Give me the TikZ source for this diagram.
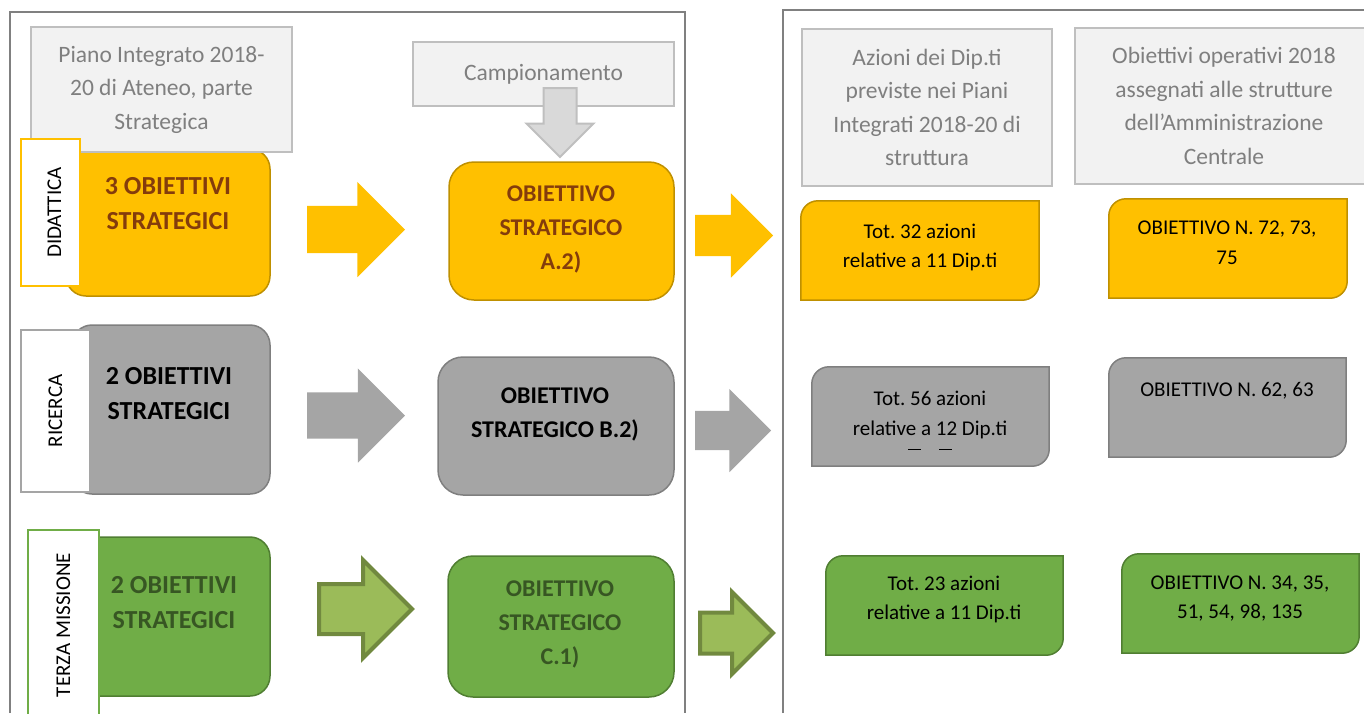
\documentclass[tikz,border=0pt]{standalone}
\usepackage{fontspec}
\setmainfont{Carlito}
\usetikzlibrary{shapes.arrows,positioning}
\frenchspacing

\definecolor{yfill}{HTML}{FFC000}
\definecolor{yline}{HTML}{BF9000}
\definecolor{ytext}{HTML}{843C0C}
\definecolor{gfill}{HTML}{A5A5A5}
\definecolor{gline}{HTML}{7F7F7F}
\definecolor{vfill}{HTML}{70AD47}
\definecolor{vline}{HTML}{507E32}
\definecolor{vtext}{HTML}{375623}
\definecolor{varrfill}{HTML}{9BBB59}
\definecolor{varrline}{HTML}{71893F}
\definecolor{hdrfill}{HTML}{F2F2F2}
\definecolor{hdrline}{HTML}{BFBFBF}
\definecolor{hdrtext}{HTML}{7F7F7F}
\definecolor{downfill}{HTML}{D9D9D9}
\definecolor{framegray}{HTML}{808080}

% box with top-left and bottom-right corners rounded
\newcommand{\diagcorners}[2]{%
  \draw[#2] (#1.south west) -- ([yshift=-17pt]#1.north west)
    arc[start angle=180, end angle=90, radius=17pt] -- (#1.north east)
    -- ([yshift=17pt]#1.south east)
    arc[start angle=0, end angle=-90, radius=17pt] -- cycle;}

\tikzset{
  hdrbox/.style={draw=hdrline, fill=hdrfill, line width=1.8pt, text=hdrtext,
    align=center, inner sep=0pt, font=\fontsize{23.5}{33.5}\selectfont},
  catlabel/.style={draw=#1, fill=white, line width=1.5pt, inner sep=0pt},
  labeltxt/.style={rotate=90, font=\fontsize{21}{25}\selectfont},
  leftbox/.style={rounded corners=20pt, line width=1.5pt, inner sep=0pt},
  midbox/.style={rounded corners=25pt, line width=1.5pt, inner sep=0pt},
  bigtxt/.style={align=center, font=\fontsize{26}{35}\selectfont\bfseries},
  midtxt/.style={align=center, font=\fontsize{24}{34}\selectfont\bfseries},
  bodytxt/.style={align=center, font=\fontsize{21}{29.5}\selectfont},
  diagbox/.style={inner sep=0pt},
  blockarr/.style={single arrow, anchor=tip, outer sep=0pt},
  framel/.style={draw=framegray, line width=1.2pt},
}

\begin{document}
\begin{tikzpicture}[x=1pt,y=-1pt]
\useasboundingbox (0,0) rectangle (1364,713);
\clip (0,0) rectangle (1364,713);

% frames
\draw[framel] (10,713) -- (10,12) -- (685,12) -- (685,713);
\draw[framel] (783,713) -- (783,10) -- (1364,10);

% didattica
\node[leftbox, fill=yfill, draw=yline, minimum width=204pt, minimum height=147pt] (yl-box) at (168,222.5) {};
\node[hdrbox, minimum width=261pt, minimum height=125pt] (hdr-piano) at (161.5,89.5) {Piano Integrato 2018-\\20 di Ateneo, parte\\Strategica};
\node[catlabel=yfill, minimum width=59pt, minimum height=147pt] (lab-did) at (50.5,212.5) {};
\node[labeltxt] (lt-did) at ([xshift=4pt]lab-did.center) {DIDATTICA};
\node[bigtxt, text=ytext] (t-yl) at (168,203.5) {3 OBIETTIVI\\STRATEGICI};

% ricerca
\node[leftbox, fill=gfill, draw=gline, minimum width=198pt, minimum height=169pt] (gl-box) at (171,409.5) {};
\node[catlabel=gfill, minimum width=69pt, minimum height=162pt] (lab-ric) at (55.5,411) {};
\node[labeltxt] (lt-ric) at (lab-ric) {RICERCA};
\node[bigtxt] (t-gl) at (169,394) {2 OBIETTIVI\\STRATEGICI};

% terza missione
\node[leftbox, fill=vfill, draw=vline, minimum width=194pt, minimum height=159pt] (vl-box) at (173,616.5) {};
\node[catlabel=vfill, minimum width=71pt, minimum height=190pt] (lab-ter) at (63.5,625) {};
\node[labeltxt] (lt-ter) at (lab-ter) {TERZA MISSIONE};
\node[bigtxt, text=vtext] (t-vl) at (174,602.5) {2 OBIETTIVI\\STRATEGICI};

% arrows to the sample
\node[blockarr, fill=yfill, inner sep=23.5pt, minimum height=98pt, minimum width=95pt, single arrow head extend=24pt] (ya1) at (405,229.5) {};
\node[blockarr, fill=gfill, inner sep=23pt, minimum height=98pt, minimum width=94pt, single arrow head extend=24pt] (ga1) at (405,415.5) {};
\node[blockarr, fill=varrfill, draw=varrline, line width=4pt, inner sep=23pt, minimum height=93pt, minimum width=94pt, single arrow head extend=24pt] (va1) at (412,609) {};

% sampled objectives
\node[midbox, fill=yfill, draw=yline, minimum width=225pt, minimum height=138pt] (ym-box) at (561.5,231) {};
\node[midtxt, text=ytext] (t-ym) at (561,229) {OBIETTIVO\\STRATEGICO\\A.2)};
\node[midbox, fill=gfill, draw=gline, minimum width=236pt, minimum height=138pt] (gm-box) at (556,426) {};
\node[midtxt] (t-gm) at (555,414) {OBIETTIVO\\STRATEGICO B.2)};
\node[midbox, fill=vfill, draw=vline, minimum width=226pt, minimum height=141pt] (vm-box) at (561,626.5) {};
\node[midtxt, text=vtext] (t-vm) at (560,624) {OBIETTIVO\\STRATEGICO\\C.1)};

\node[hdrbox, minimum width=261pt, minimum height=64pt] (hdr-camp) at (543.5,74) {Campionamento};
\node[blockarr, fill=downfill, draw=hdrline, line width=2pt, shape border rotate=270, inner sep=15.5pt, minimum height=69pt, minimum width=65pt, single arrow head extend=17pt] (camp-arr) at (560,157) {};

% arrows to the structures
\node[blockarr, fill=yfill, inner sep=20.5pt, minimum height=78pt, minimum width=84pt, single arrow head extend=21.5pt] (ya2) at (773,235.5) {};
\node[blockarr, fill=gfill, inner sep=19.5pt, minimum height=76pt, minimum width=83pt, single arrow head extend=22pt] (ga2) at (771,430.5) {};
\node[blockarr, fill=varrfill, draw=varrline, line width=4pt, inner sep=18.5pt, minimum height=73pt, minimum width=78pt, single arrow head extend=20.5pt] (va2) at (773,633) {};

% right headers
\node[hdrbox, minimum width=250pt, minimum height=157pt] (hdr-azioni) at (927,107.5) {Azioni dei Dip.ti\\previste nei Piani\\Integrati 2018-20 di\\struttura};
\node[hdrbox, minimum width=298pt, minimum height=156pt] (hdr-obiet) at (1224,106) {Obiettivi operativi 2018\\assegnati alle strutture\\dell’Amministrazione\\Centrale};

% actions of the departments
\node[diagbox, minimum width=238pt, minimum height=99pt] (yt-box) at (920,250.5) {};
\diagcorners{yt-box}{fill=yfill, draw=yline, line width=1.5pt}
\node[bodytxt] (t-yt) at (920,247.5) {Tot. 32 azioni\\relative a 11 Dip.ti};
\node[diagbox, minimum width=237pt, minimum height=99pt] (gt-box) at (930.5,416.5) {};
\diagcorners{gt-box}{fill=gfill, draw=gline, line width=1.5pt}
\node[bodytxt] (t-gt) at (930,415) {Tot. 56 azioni\\relative a 12 Dip.ti};
\draw[line width=1pt] (908,449) -- (921,449) (939,449) -- (952,449);
\node[diagbox, minimum width=237pt, minimum height=99pt] (vt-box) at (944.5,605.5) {};
\diagcorners{vt-box}{fill=vfill, draw=vline, line width=1.5pt}
\node[bodytxt] (t-vt) at (944,599.5) {Tot. 23 azioni\\relative a 11 Dip.ti};

% operative objectives
\node[diagbox, minimum width=238pt, minimum height=99pt] (yo-box) at (1228,248.5) {};
\diagcorners{yo-box}{fill=yfill, draw=yline, line width=1.5pt}
\node[bodytxt] (t-yo) at (1227,243) {OBIETTIVO N. 72, 73,\\75};
\node[diagbox, minimum width=237pt, minimum height=99pt] (go-box) at (1227.5,407.5) {};
\diagcorners{go-box}{fill=gfill, draw=gline, line width=1.5pt}
\node[bodytxt] (t-go) at (1227,391) {OBIETTIVO N. 62, 63};
\node[diagbox, minimum width=237pt, minimum height=99pt] (vo-box) at (1240.5,603.5) {};
\diagcorners{vo-box}{fill=vfill, draw=vline, line width=1.5pt}
\node[bodytxt] (t-vo) at (1240,598.5) {OBIETTIVO N. 34, 35,\\51, 54, 98, 135};
\end{tikzpicture}
\end{document}
